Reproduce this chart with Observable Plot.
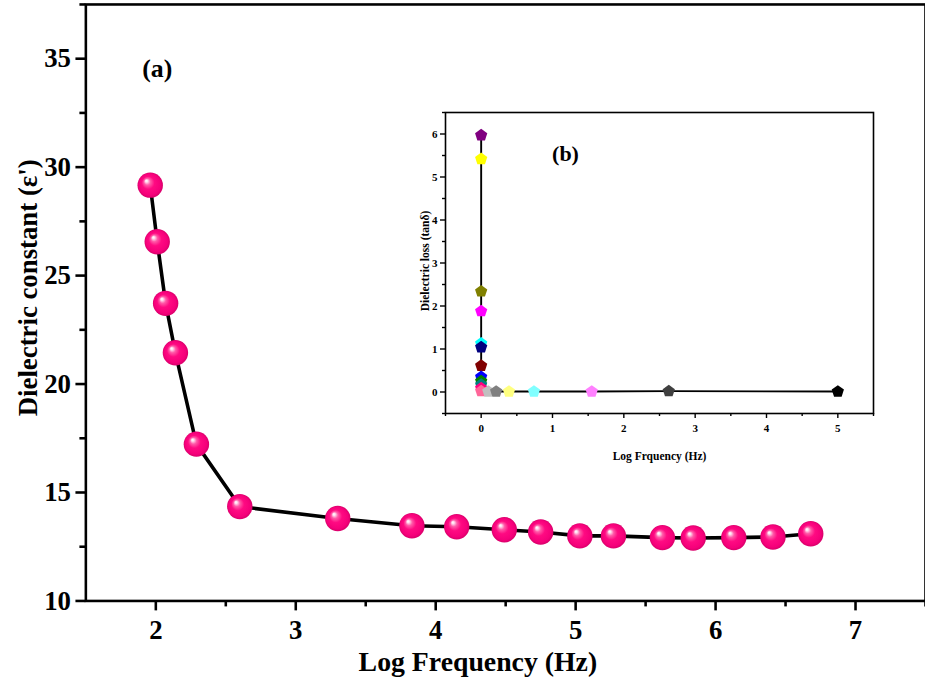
<!DOCTYPE html>
<html><head><meta charset="utf-8">
<script src="https://cdn.jsdelivr.net/npm/d3@7"></script>
<script src="https://cdn.jsdelivr.net/npm/@observablehq/plot@0.6"></script>
<style>
html,body{margin:0;padding:0;background:#fff;overflow:hidden;}
#wrap{position:relative;width:925px;height:690px;overflow:hidden;}
#inset{position:absolute;left:400px;top:100px;}
svg{font-family:"Liberation Serif","Times New Roman",serif;font-weight:bold;}
</style></head><body><div id="wrap"><div id="main"></div><div id="inset"></div></div>
<script>
// ---- Panel (a): dielectric constant vs log frequency ----
const logFreqA = [1.96, 2.01, 2.07, 2.14, 2.29, 2.60, 3.30, 3.83, 4.15, 4.49, 4.75, 5.03, 5.27, 5.62, 5.84, 6.13, 6.41, 6.68];
const epsA     = [29.17, 26.56, 23.72, 21.44, 17.23, 14.35, 13.80, 13.47, 13.42, 13.28, 13.18, 13.00, 13.00, 12.92, 12.90, 12.92, 12.95, 13.10];
const yTicksA = [10, 15, 20, 25, 30, 35];
const yMinorA = [12.5, 17.5, 22.5, 27.5, 32.5, 37.5];
const xTicksA = [2, 3, 4, 5, 6, 7];
const xMinorA = [2.5, 3.5, 4.5, 5.5, 6.5, 7.5];

// ---- Panel (b): dielectric loss vs log frequency ----
const logFreqB = [0, 0, 0, 0, 0, 0, 0, 0, 0, 0, 0, 0, 0.10, 0.21, 0.39, 0.74, 1.55, 2.63, 5.00];
const tanB     = [5.97, 5.42, 2.34, 1.88, 1.13, 1.04, 0.61, 0.35, 0.25, 0.17, 0.09, 0.02, 0.01, 0.01, 0.01, 0.01, 0.01, 0.02, 0.01];
const colorB   = ["#800080", "#ffff00", "#808000", "#ff00ff", "#00ffff", "#000080", "#800000", "#0000ff", "#008000", "#008080", "#ff0080", "#ff6699",
                  "#c0c0c0", "#808080", "#ffff80", "#80ffff", "#ff80ff", "#404040", "#000000"];
const yTicksB = [0, 1, 2, 3, 4, 5, 6];
const yMinorB = [-0.5, 0.5, 1.5, 2.5, 3.5, 4.5, 5.5, 6.5];
const xTicksB = [0, 1, 2, 3, 4, 5];
const xMinorB = [-0.5, 0.5, 1.5, 2.5, 3.5, 4.5, 5.5];

const dataA = logFreqA.map((x, i) => ({x, y: epsA[i]}));
const dataB = logFreqB.map((x, i) => ({x, y: tanB[i], c: colorB[i]}));

const F = "Liberation Serif";
const fmt = d => String(d);

const main = Plot.plot({
  width: 932, height: 690,
  marginLeft: 86, marginTop: 4, marginBottom: 85, marginRight: 0,
  x: {domain: [1.5, 7.5]},
  y: {domain: [10, 37.5]},
  style: {background: "white", fontFamily: F, fontWeight: "bold"},
  marks: [
    Plot.frame({stroke: "black", strokeWidth: 2.6}),
    Plot.axisY(yTicksA, {tickSize: 10, strokeWidth: 2.6, tickPadding: 5, fontSize: 27, fontFamily: F, fontWeight: "bold", tickFormat: fmt, label: null}),
    Plot.axisY(yMinorA, {tickSize: 6, strokeWidth: 2.6, text: null, label: null}),
    Plot.axisX(xTicksA, {tickSize: 10, strokeWidth: 2.6, tickPadding: 9, fontSize: 27, fontFamily: F, fontWeight: "bold", tickFormat: fmt, label: null}),
    Plot.axisX(xMinorA, {tickSize: 6, strokeWidth: 2.6, text: null, label: null}),
    Plot.line(dataA, {x: "x", y: "y", stroke: "black", strokeWidth: 3.6}),
    Plot.dot(dataA, {x: "x", y: "y", r: 12.8, fill: "url(#sph)", stroke: "none"}),
    Plot.text(["(a)"], {frameAnchor: "top-left", dx: 72, dy: 65, textAnchor: "middle", lineAnchor: "middle", fontSize: 26, fontFamily: F, fontWeight: "bold"}),
    Plot.text(["Log Frequency (Hz)"], {frameAnchor: "bottom", dx: -28, dy: 62, textAnchor: "middle", lineAnchor: "middle", fontSize: 28, fontFamily: F, fontWeight: "bold"}),
    Plot.text(["Dielectric constant (ε')"], {frameAnchor: "left", dx: -58, dy: -15, rotate: -90, textAnchor: "middle", lineAnchor: "middle", fontSize: 27, fontFamily: F, fontWeight: "bold"})
  ]
});
const defs = d3.select(main).insert("defs", ":first-child");
const grad = defs.append("radialGradient").attr("id", "sph")
  .attr("cx", "50%").attr("cy", "50%").attr("r", "50%").attr("fx", "34%").attr("fy", "32%");
[["0%", "#ffffff"], ["9%", "#ffe0f0"], ["26%", "#ff5aa8"], ["50%", "#ff0a82"], ["85%", "#f5007a"], ["100%", "#d8006a"]]
  .forEach(([o, c]) => grad.append("stop").attr("offset", o).attr("stop-color", c));
document.getElementById("main").appendChild(main);

const pentagon = {
  draw(ctx, size) {
    const r = Math.sqrt(size / (2.5 * Math.sin(2 * Math.PI / 5)));
    for (let i = 0; i < 5; i++) {
      const a = -Math.PI / 2 + i * 2 * Math.PI / 5;
      const x = r * Math.cos(a), y = r * Math.sin(a);
      if (i) ctx.lineTo(x, y); else ctx.moveTo(x, y);
    }
    ctx.closePath();
  }
};

const inset = Plot.plot({
  width: 478, height: 373,
  marginLeft: 45, marginTop: 12, marginRight: 5, marginBottom: 60,
  x: {domain: [-0.5, 5.5]},
  y: {domain: [-0.5, 6.5]},
  style: {background: "transparent", fontFamily: F, fontWeight: "bold"},
  marks: [
    Plot.frame({stroke: "black", strokeWidth: 1.6}),
    Plot.axisY(yTicksB, {tickSize: 5, strokeWidth: 1.4, tickPadding: 3, fontSize: 11, fontFamily: F, fontWeight: "bold", tickFormat: fmt, label: null}),
    Plot.axisY(yMinorB, {tickSize: 3, strokeWidth: 1.4, text: null, label: null}),
    Plot.axisX(xTicksB, {tickSize: 5, strokeWidth: 1.4, tickPadding: 6, fontSize: 11, fontFamily: F, fontWeight: "bold", tickFormat: fmt, label: null}),
    Plot.axisX(xMinorB, {tickSize: 3, strokeWidth: 1.4, text: null, label: null}),
    Plot.line(dataB, {x: "x", y: "y", stroke: "black", strokeWidth: 1.9}),
    Plot.dot(dataB, {x: "x", y: "y", r: 5.6, symbol: pentagon, fill: "c", stroke: "none"}),
    Plot.text(["(b)"], {frameAnchor: "top-left", dx: 120, dy: 41, textAnchor: "middle", lineAnchor: "middle", fontSize: 22, fontFamily: F, fontWeight: "bold"}),
    Plot.text(["Log Frquency (Hz)"], {frameAnchor: "bottom", dy: 43, textAnchor: "middle", lineAnchor: "middle", fontSize: 11.5, fontFamily: F, fontWeight: "bold"}),
    Plot.text(["Dielectric loss (tanδ)"], {frameAnchor: "left", dx: -20, dy: -2, rotate: -90, textAnchor: "middle", lineAnchor: "middle", fontSize: 11.5, fontFamily: F, fontWeight: "bold"})
  ]
});
document.getElementById("inset").appendChild(inset);
</script>
</body></html>
